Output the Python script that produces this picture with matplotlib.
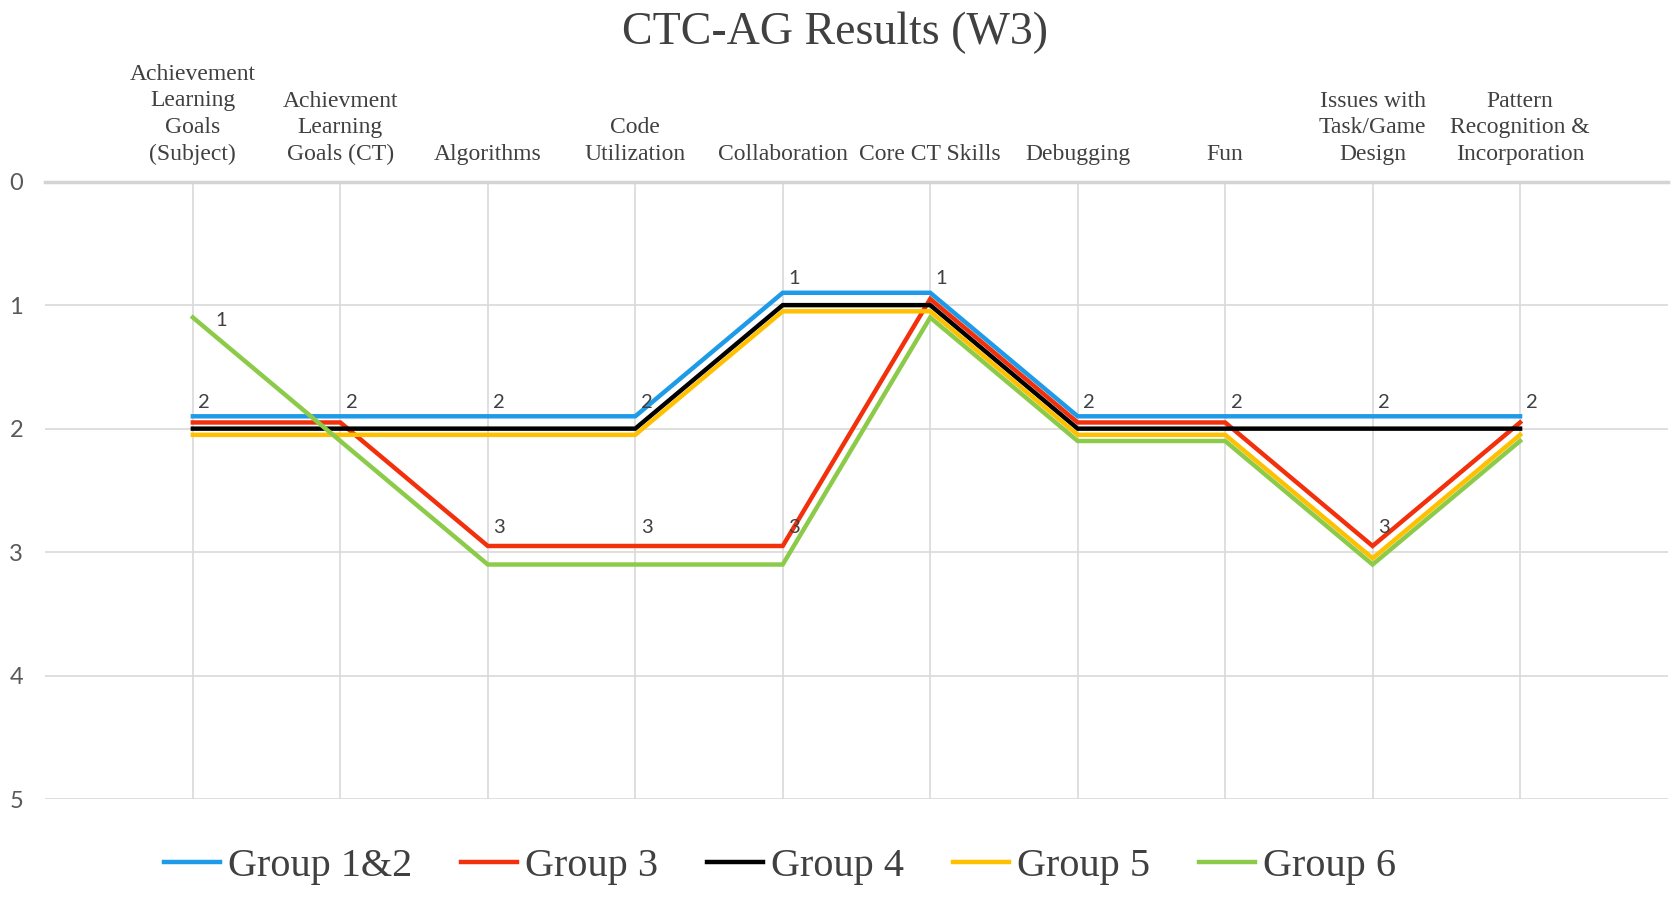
import numpy as np
import matplotlib
matplotlib.use('Agg')
import matplotlib.pyplot as plt

categories = ['Achievement\nLearning\nGoals\n(Subject)', 'Achievment\nLearning\nGoals (CT)',
              'Algorithms', 'Code\nUtilization', 'Collaboration', 'Core CT Skills',
              'Debugging', 'Fun', 'Issues with\nTask/Game\nDesign',
              'Pattern\nRecognition &\nIncorporation']

# values as drawn (ties are nudged apart so every line stays visible)
group12 = [1.9, 1.9, 1.9, 1.9, 0.9, 0.9, 1.9, 1.9, 1.9, 1.9]
group3 = [1.95, 1.95, 2.95, 2.95, 2.95, 0.95, 1.95, 1.95, 2.95, 1.95]
group4 = [2.0, 2.0, 2.0, 2.0, 1.0, 1.0, 2.0, 2.0, 2.0, 2.0]
group5 = [2.05, 2.05, 2.05, 2.05, 1.05, 1.05, 2.05, 2.05, 3.05, 2.05]
group6 = [1.1, 2.1, 3.1, 3.1, 3.1, 1.1, 2.1, 2.1, 3.1, 2.1]

names = ['Group 1&2', 'Group 3', 'Group 4', 'Group 5', 'Group 6']
series = [group12, group3, group4, group5, group6]
colors = ['#1E9BE8', '#F2300C', '#000000', '#FFC000', '#8CCB4A']
# which points carry a data label
labelled = [list(range(10)), [2, 3, 4, 8], [], [], [0]]
label_offset = [(4, 4), (4, 7), (0, 0), (0, 0), (16, -8)]

x = np.arange(len(categories))

fig = plt.figure(figsize=(16.81, 8.99), dpi=100)
ax = fig.add_axes([0.027, 0.111, 0.965, 0.687])

for vals, name, c in zip(series, names, colors):
    ax.plot(x, vals, color=c, linewidth=3.2, label=name, solid_joinstyle='miter')

for vals, c, idx, off in zip(series, colors, labelled, label_offset):
    for i in idx:
        ax.annotate(str(int(round(vals[i]))), (x[i], vals[i]), xytext=off,
                    textcoords='offset points', fontsize=14.5, color='#404040',
                    family=['Lato', 'DejaVu Sans'], ha='left', va='bottom')

ax.set_xlim(-1, 10)
ax.set_ylim(5, 0)
ax.set_yticks(np.arange(0, 6, 1))
ax.set_xticks(x)
ax.xaxis.tick_top()
ax.set_xticklabels(categories, fontsize=17, family='Liberation Serif', color='#404040',
                   linespacing=1.35)
ax.tick_params(axis='x', length=0, pad=12)
ax.tick_params(axis='y', length=0, pad=16, labelsize=17, labelcolor='#595959')
for lab in ax.get_yticklabels():
    lab.set_family(['Lato', 'DejaVu Sans'])

ax.grid(True, color='#D9D9D9', linewidth=1.2)
ax.set_axisbelow(True)
for s in ['left', 'right', 'bottom']:
    ax.spines[s].set_visible(False)
ax.spines['top'].set_color('#D4D4D4')
ax.spines['top'].set_linewidth(2.5)

fig.text(0.497, 0.963, 'CTC-AG Results (W3)', ha='center', va='center',
         fontsize=33, family='Liberation Serif', color='#404040')

fig.legend(loc='center', bbox_to_anchor=(0.464, 0.036), ncol=5, frameon=False,
           prop={'family': 'Liberation Serif', 'size': 29}, handlelength=1.4,
           handletextpad=0.2, columnspacing=1.2, labelcolor='#404040')

fig.savefig('out.png', dpi=100)
